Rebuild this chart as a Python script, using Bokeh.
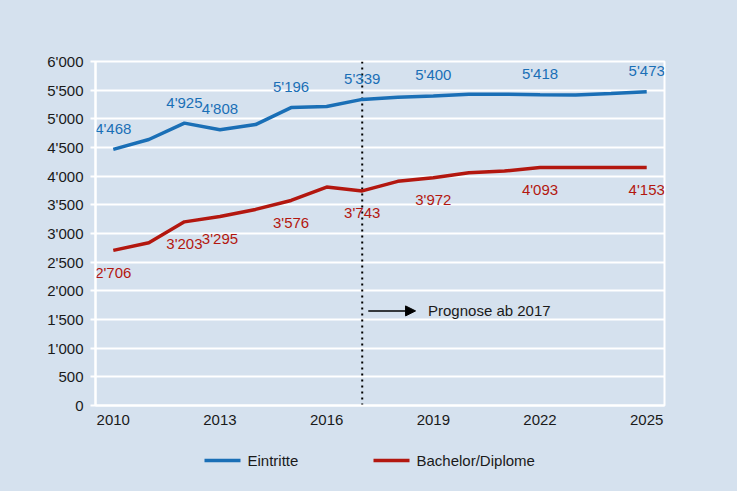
from bokeh.plotting import figure
from bokeh.layouts import column
from bokeh.models import (ColumnDataSource, FixedTicker, CustomJSTickFormatter,
                          Arrow, NormalHead, Range1d)
from bokeh.embed import file_html
from bokeh.resources import INLINE
from bokeh.core.properties import value

# ---- data ----
years = list(range(2010, 2026))
eintritte = [4468, 4640, 4925, 4808, 4900, 5196, 5215, 5339, 5375, 5400, 5430, 5430, 5418, 5415, 5440, 5473]
bachelor = [2706, 2840, 3203, 3295, 3420, 3576, 3810, 3743, 3910, 3972, 4060, 4090, 4150, 4152, 4152, 4153]

eintritte_label_years = [2010, 2012, 2013, 2015, 2017, 2019, 2022, 2025]
eintritte_label_values = [4468, 4925, 4808, 5196, 5339, 5400, 5418, 5473]
bachelor_label_years = [2010, 2012, 2013, 2015, 2017, 2019, 2022, 2025]
bachelor_label_values = [2706, 3203, 3295, 3576, 3743, 3972, 4093, 4153]

x_ticks = [2010, 2013, 2016, 2019, 2022, 2025]
y_ticks = list(range(0, 6001, 500))
forecast_year = 2017
forecast_text = "Prognose ab 2017"
forecast_level = 1650

series_names = ["Eintritte", "Bachelor/Diplome"]
series_colors = ["#1a6fb6", "#b3170f"]

# ---- style ----
BG = "#d5e1ee"
BLUE, RED = series_colors
FONT = "Liberation Sans"
FS = "15px"
W = 737
LEFT, RIGHT = 95, 73


def fmt(v):
    return f"{v:,}".replace(",", "'")


p = figure(width=W, height=440, output_backend="svg", toolbar_location=None,
           x_range=Range1d(2009.5, 2025.5), y_range=Range1d(0, 6000),
           min_border_left=LEFT, min_border_right=RIGHT, min_border_top=61, min_border_bottom=35)
p.background_fill_color = BG
p.border_fill_color = BG
p.outline_line_color = "white"
p.outline_line_width = 2

p.xgrid.grid_line_color = None
p.ygrid.grid_line_color = "white"
p.ygrid.grid_line_width = 2
p.ygrid.ticker = FixedTicker(ticks=y_ticks)

p.xaxis.ticker = FixedTicker(ticks=x_ticks)
p.yaxis.ticker = FixedTicker(ticks=y_ticks)
p.yaxis.formatter = CustomJSTickFormatter(
    code="return tick.toString().replace(/\\B(?=(\\d{3})+(?!\\d))/g, \"'\");")
for ax in (p.xaxis[0], p.yaxis[0]):
    ax.axis_line_color = "white"
    ax.axis_line_width = 2
    ax.major_tick_line_color = "white"
    ax.major_tick_line_width = 2
    ax.minor_tick_line_color = None
    ax.major_label_text_font = FONT
    ax.major_label_text_font_size = FS
    ax.major_label_text_color = "#1a1a1a"
p.xaxis.major_tick_out = 0
p.xaxis.major_tick_in = 0
p.xaxis.major_label_standoff = 9
p.yaxis.major_tick_out = 5
p.yaxis.major_tick_in = 0
p.yaxis.major_label_standoff = 7

# forecast divider
p.segment(x0=[forecast_year], y0=[0], x1=[forecast_year], y1=[6000],
          line_color="black", line_width=2, line_dash="2 4")

src = ColumnDataSource(dict(x=years, e=eintritte, b=bachelor))
p.line("x", "e", source=src, line_color=BLUE, line_width=3.5)
p.line("x", "b", source=src, line_color=RED, line_width=3.5)

# data labels
lab_e = ColumnDataSource(dict(
    x=eintritte_label_years,
    y=[eintritte[years.index(yr)] for yr in eintritte_label_years],
    t=[fmt(v) for v in eintritte_label_values]))
lab_b = ColumnDataSource(dict(
    x=bachelor_label_years,
    y=[bachelor[years.index(yr)] for yr in bachelor_label_years],
    t=[fmt(v) for v in bachelor_label_values]))
p.text("x", "y", text="t", source=lab_e, text_color=BLUE, text_font=value(FONT),
       text_font_size=FS, text_align="center", text_baseline="middle", y_offset=-21)
p.text("x", "y", text="t", source=lab_b, text_color=RED, text_font=value(FONT),
       text_font_size=FS, text_align="center", text_baseline="middle", y_offset=22)

# forecast annotation
p.add_layout(Arrow(end=NormalHead(size=10, fill_color="black", line_color="black"),
                   x_start=forecast_year + 0.17, y_start=forecast_level,
                   x_end=forecast_year + 1.5, y_end=forecast_level,
                   line_color="black", line_width=1.5))
p.text(x=[forecast_year + 1.85], y=[forecast_level], text=[forecast_text],
       text_color="#1a1a1a", text_font=value(FONT), text_font_size=FS,
       text_align="left", text_baseline="middle")

# ---- legend strip (screen-pixel coordinates inside its own frame) ----
LH = 51
lg = figure(width=W, height=LH, output_backend="svg", toolbar_location=None,
            x_range=Range1d(LEFT, W - RIGHT), y_range=Range1d(0, LH),
            x_axis_location=None, y_axis_location=None,
            min_border_left=LEFT, min_border_right=RIGHT,
            min_border_top=0, min_border_bottom=0)
lg.background_fill_color = BG
lg.border_fill_color = BG
lg.outline_line_color = None
lg.xgrid.grid_line_color = None
lg.ygrid.grid_line_color = None
key_x = [204, 373]          # left edge of each legend key (px)
key_w, key_gap, key_y = 36, 7, 31
lg.segment(x0=key_x, y0=[key_y] * 2, x1=[k + key_w for k in key_x], y1=[key_y] * 2,
           line_color=series_colors, line_width=3.5)
lg.text(x=[k + key_w + key_gap for k in key_x], y=[key_y] * 2, text=series_names,
        text_color="#1a1a1a", text_font=value(FONT), text_font_size=FS,
        text_align="left", text_baseline="middle")

layout = column(p, lg, spacing=0, styles={"background-color": BG})
open("out.html", "w").write(file_html(layout, INLINE))
